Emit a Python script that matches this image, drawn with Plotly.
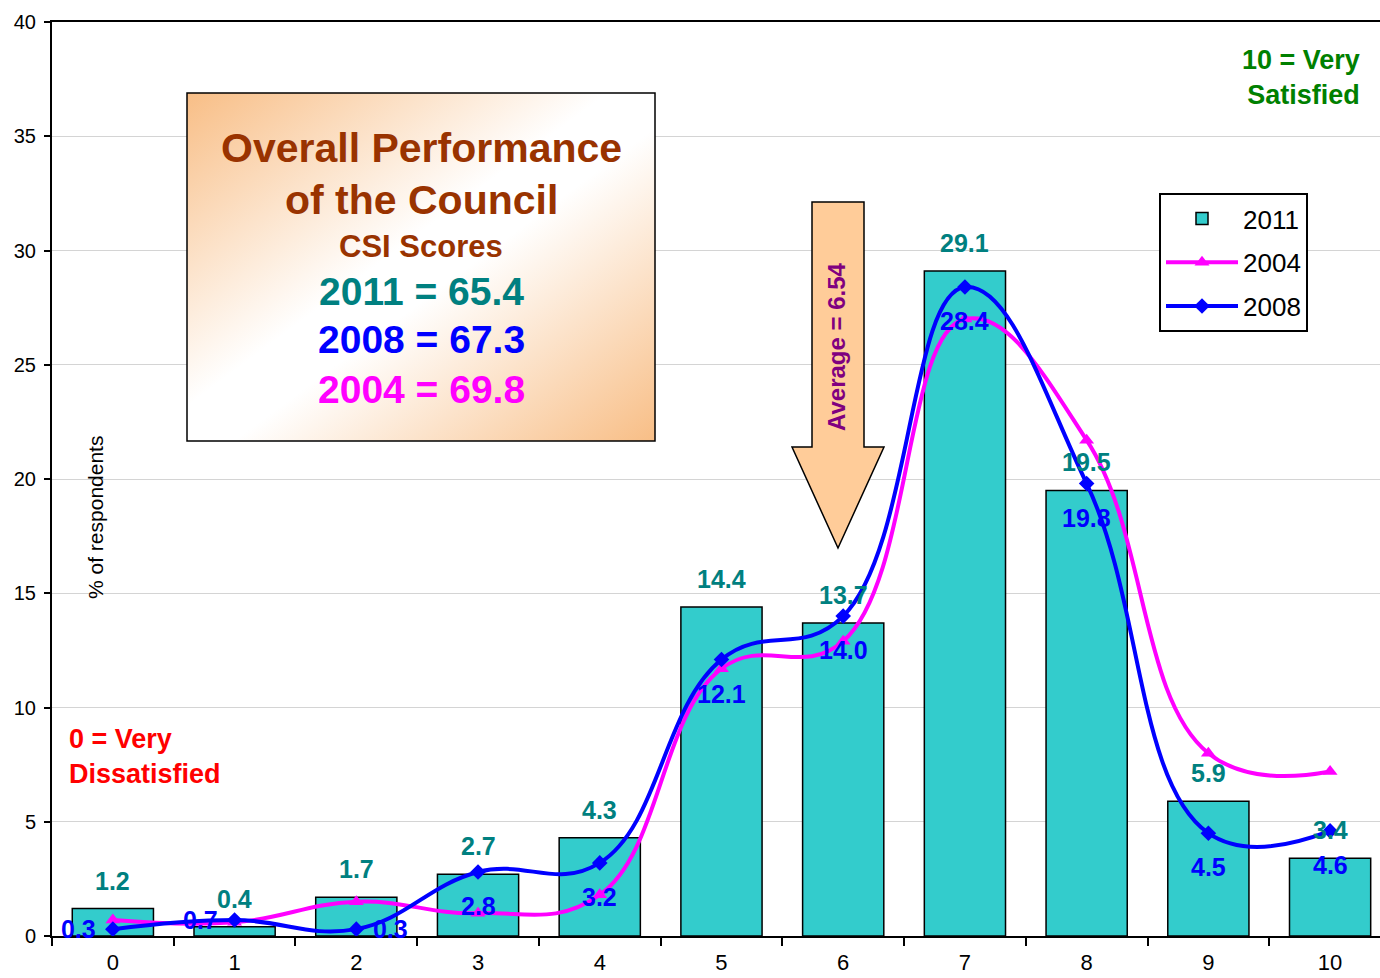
import base64
import plotly.graph_objects as go

# ---------------- data ----------------
categories = ["0", "1", "2", "3", "4", "5", "6", "7", "8", "9", "10"]
vals_2011 = [1.2, 0.4, 1.7, 2.7, 4.3, 14.4, 13.7, 29.1, 19.5, 5.9, 3.4]
vals_2004 = [0.7, 0.6, 1.5, 1.0, 1.8, 11.7, 12.9, 27.0, 21.7, 8.0, 7.2]
vals_2008 = [0.3, 0.7, 0.3, 2.8, 3.2, 12.1, 14.0, 28.4, 19.8, 4.5, 4.6]
label_pos_2008 = ["left", "left", "right", "below", "below", "below",
                  "below", "below", "below", "below", "below"]

title_lines = ["Overall Performance", "of the Council", "CSI Scores",
               "2011 = 65.4", "2008 = 67.3", "2004 = 69.8"]

FONT = "Arial, Liberation Sans, sans-serif"
W, H = 1380, 978
L, R, T, B = 52, 0, 22, 42
PW, PH = W - L - R, H - T - B


def px(x):
    return (x - L) / PW


def py(y):
    return (H - B - y) / PH


fig = go.Figure()

fig.add_trace(go.Bar(
    x=categories, y=vals_2011, name="2011", width=0.667, legendgroup="a",
    marker=dict(color="#33CCCC", line=dict(color="black", width=1.5)),
))
fig.add_trace(go.Scatter(
    x=categories, y=vals_2004, name="2004", mode="lines+markers", legendgroup="b",
    line=dict(color="#FF00FF", width=4, shape="spline", smoothing=1.2),
    marker=dict(symbol="triangle-up", size=13, color="#FF00FF"),
))
fig.add_trace(go.Scatter(
    x=categories, y=vals_2008, name="2008", mode="lines+markers", legendgroup="c",
    line=dict(color="#0000FF", width=4, shape="spline", smoothing=1.2),
    marker=dict(symbol="diamond", size=12, color="#0000FF"),
))

annotations = []
# 2011 data labels above bars
for c, v in zip(categories, vals_2011):
    annotations.append(dict(x=c, y=v, text=f"{v:.1f}", showarrow=False,
                            xanchor="center", yanchor="middle",
                            yshift=28, font=dict(family=FONT, size=25, color="#008080", weight="bold")))
# 2008 data labels
for c, v, p in zip(categories, vals_2008, label_pos_2008):
    xs, ys = 0, -34
    if p == "left":
        xs, ys = -34, 0
    elif p == "right":
        xs, ys = 34, 0
    annotations.append(dict(x=c, y=v, text=f"{v:.1f}", showarrow=False,
                            xanchor="center", yanchor="middle",
                            xshift=xs, yshift=ys,
                            font=dict(family=FONT, size=25, color="#0000FF", weight="bold")))

# title box texts
title_styles = [
    (148, 41, "#993300"), (200, 41, "#993300"), (247, 31, "#993300"),
    (291, 39, "#008080"), (340, 39, "#0000FF"), (389, 39, "#FF00FF"),
]
for txt, (yc, sz, col) in zip(title_lines, title_styles):
    annotations.append(dict(xref="paper", yref="paper", x=px(421), y=py(yc),
                            text=txt, showarrow=False, xanchor="center", yanchor="middle",
                            font=dict(family=FONT, size=sz, color=col, weight="bold")))

# arrow label
annotations.append(dict(xref="paper", yref="paper", x=px(837), y=py(347),
                        text="Average = 6.54", textangle=-90, showarrow=False,
                        xanchor="center", yanchor="middle",
                        font=dict(family=FONT, size=24, color="#800080", weight="bold")))
# y axis title inside the plot
annotations.append(dict(xref="paper", yref="paper", x=px(95), y=py(518),
                        text="% of respondents", textangle=-90, showarrow=False,
                        xanchor="center", yanchor="middle",
                        font=dict(family=FONT, size=21, color="black")))
# scale end notes
annotations.append(dict(xref="paper", yref="paper", x=px(67), y=py(756),
                        text="0 = Very<br>Dissatisfied", showarrow=False, align="left",
                        xanchor="left", yanchor="middle",
                        font=dict(family=FONT, size=27, color="#FF0000", weight="bold")))
annotations.append(dict(xref="paper", yref="paper", x=px(1362), y=py(78),
                        text="10 = Very<br>Satisfied", showarrow=False, align="right",
                        xanchor="right", yanchor="middle",
                        font=dict(family=FONT, size=27, color="#008000", weight="bold")))

# gradient image for title box
bx0, by0, bx1, by1 = 187, 93, 655, 441
svg = (f'<svg xmlns="http://www.w3.org/2000/svg" width="{bx1-bx0}" height="{by1-by0}" '
       f'viewBox="0 0 {bx1-bx0} {by1-by0}" preserveAspectRatio="none">'
       '<defs><linearGradient id="g" x1="0" y1="0" x2="1" y2="1">'
       '<stop offset="0" stop-color="#F8BE86"/>'
       '<stop offset="0.45" stop-color="#FFFFFF"/>'
       '<stop offset="0.55" stop-color="#FFFFFF"/>'
       '<stop offset="1" stop-color="#F8BE86"/>'
       '</linearGradient></defs>'
       f'<rect x="0" y="0" width="{bx1-bx0}" height="{by1-by0}" fill="url(#g)"/></svg>')
src = "data:image/svg+xml;base64," + base64.b64encode(svg.encode()).decode()

images = [dict(source=src, xref="paper", yref="paper", x=px(bx0), y=py(by0),
               sizex=px(bx1) - px(bx0), sizey=py(by0) - py(by1),
               xanchor="left", yanchor="top", sizing="stretch", layer="above")]

shapes = [
    dict(type="rect", xref="paper", yref="paper", x0=px(bx0), y0=py(by1), x1=px(bx1), y1=py(by0),
         line=dict(color="black", width=1.5), fillcolor="rgba(0,0,0,0)", layer="above"),
]
# down arrow
pts = [(812, 202), (864, 202), (864, 447), (884, 447), (838, 548), (792, 447), (812, 447)]
path = "M " + " L ".join(f"{px(x)},{py(y)}" for x, y in pts) + " Z"
shapes.append(dict(type="path", xref="paper", yref="paper", path=path,
                   fillcolor="#FFCC99", line=dict(color="black", width=1.5), layer="above"))

fig.update_layout(
    width=W, height=H,
    margin=dict(l=L, r=R, t=T, b=B),
    paper_bgcolor="white", plot_bgcolor="white",
    font=dict(family=FONT, color="black"),
    bargap=0.333,
    showlegend=True,
    legend=dict(x=px(1159), y=py(193), xanchor="left", yanchor="top",
                bgcolor="white", bordercolor="black", borderwidth=2,
                font=dict(family=FONT, size=26, color="black"),
                traceorder="grouped", tracegroupgap=7,
                itemwidth=72, entrywidth=120),
    annotations=annotations,
    shapes=shapes,
    images=images,
    xaxis=dict(type="category", categoryorder="array", categoryarray=categories,
               range=[-0.5, 10.41], showline=True, linecolor="black", linewidth=2,
               mirror=True, ticks="outside", tickson="boundaries", ticklen=8,
               tickwidth=1.5, tickcolor="black", showgrid=False,
               ticklabelstandoff=6, automargin=False,
               tickfont=dict(family=FONT, size=22, color="black")),
    yaxis=dict(range=[0, 40], dtick=5, showline=True, linecolor="black", linewidth=2,
               ticks="outside", ticklen=6, tickwidth=2, tickcolor="black",
               showgrid=True, gridcolor="#D4D4D4", gridwidth=1, zeroline=False,
               ticklabelstandoff=4, automargin=False,
               tickfont=dict(family=FONT, size=20, color="black")),
)

fig.write_html("out.html", config={"displayModeBar": False},
               post_script="document.body.style.margin='0';document.body.style.overflow='hidden';")
